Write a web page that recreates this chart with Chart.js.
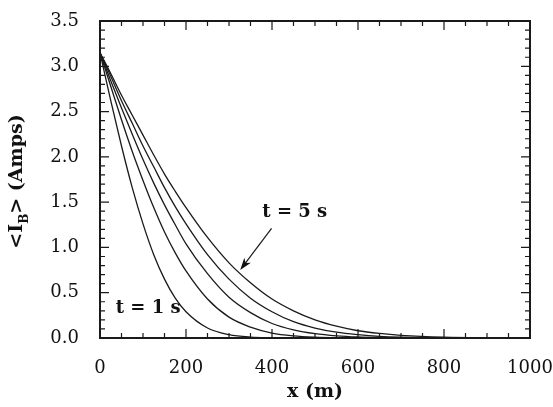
<!DOCTYPE html>
<html>
<head>
<meta charset="utf-8">
<script src="https://cdn.jsdelivr.net/npm/chart.js@4/dist/chart.umd.min.js"></script>
<style>
  html, body { margin: 0; padding: 0; background: #fff; }
  #wrap { width: 553px; height: 407px; position: relative; }
</style>
</head>
<body>
<div id="wrap"><canvas id="chart"></canvas></div>
<script>
// distance along the line (m)
const xPositions = [0, 25, 50, 75, 100, 125, 150, 175, 200, 250, 300, 350, 400, 450, 500, 550, 600, 650, 700, 800, 900, 1000];

// <I_B> (Amps) for t = 1 ... 5 s
const current1s = [3.15, 2.62, 2.12, 1.66, 1.26, 0.92, 0.65, 0.44, 0.29, 0.11, 0.037, 0.01, 0.003, 0, 0, 0, 0, 0, 0, 0, 0, 0];
const current2s = [3.15, 2.78, 2.41, 2.06, 1.74, 1.44, 1.17, 0.94, 0.74, 0.43, 0.23, 0.12, 0.054, 0.023, 0.009, 0.003, 0.001, 0, 0, 0, 0, 0];
const current3s = [3.15, 2.84, 2.54, 2.25, 1.97, 1.71, 1.47, 1.25, 1.04, 0.71, 0.45, 0.28, 0.16, 0.09, 0.048, 0.024, 0.011, 0.005, 0.002, 0, 0, 0];
const current4s = [3.15, 2.89, 2.62, 2.37, 2.12, 1.89, 1.66, 1.45, 1.26, 0.92, 0.65, 0.44, 0.29, 0.18, 0.11, 0.064, 0.037, 0.019, 0.01, 0.002, 0, 0];
const current5s = [3.15, 2.92, 2.68, 2.46, 2.24, 2.02, 1.81, 1.62, 1.44, 1.11, 0.83, 0.61, 0.43, 0.30, 0.20, 0.13, 0.08, 0.05, 0.03, 0.009, 0.002, 0];

// tick values
const xMajorTicks = [0, 200, 400, 600, 800, 1000];
const xMinorTicks = [50, 100, 150, 250, 300, 350, 450, 500, 550, 650, 700, 750, 850, 900, 950];
const yMajorTicks = [0, 0.5, 1.0, 1.5, 2.0, 2.5, 3.0, 3.5];
const yMinorTicks = [0.1, 0.2, 0.3, 0.4, 0.6, 0.7, 0.8, 0.9, 1.1, 1.2, 1.3, 1.4, 1.6, 1.7, 1.8, 1.9,
  2.1, 2.2, 2.3, 2.4, 2.6, 2.7, 2.8, 2.9, 3.1, 3.2, 3.3, 3.4];

const serif = "'DejaVu Serif', 'Liberation Serif', serif";

function series(values) {
  return {
    data: xPositions.map((x, i) => ({ x: x, y: values[i] })),
    borderColor: "#1a1a1a",
    borderWidth: 1.3,
    pointRadius: 0,
    fill: false,
    cubicInterpolationMode: "monotone",
  };
}

// frame, inward ticks, labels and arrow
const framePlugin = {
  id: "frame",
  afterDraw(chart) {
    const ctx = chart.ctx;
    const a = chart.chartArea;
    const xs = chart.scales.x;
    const ys = chart.scales.y;
    ctx.save();
    ctx.strokeStyle = "#1a1a1a";

    ctx.lineWidth = 1.2;
    const tick = (px, major, horizontal) => {
      const len = major ? 9 : 5;
      ctx.beginPath();
      if (horizontal) {
        ctx.moveTo(a.left, px); ctx.lineTo(a.left + len, px);
        ctx.moveTo(a.right, px); ctx.lineTo(a.right - len, px);
      } else {
        ctx.moveTo(px, a.bottom); ctx.lineTo(px, a.bottom - len);
        ctx.moveTo(px, a.top); ctx.lineTo(px, a.top + len);
      }
      ctx.stroke();
    };
    xMajorTicks.forEach(v => tick(xs.getPixelForValue(v), true, false));
    xMinorTicks.forEach(v => tick(xs.getPixelForValue(v), false, false));
    yMajorTicks.forEach(v => tick(ys.getPixelForValue(v), true, true));
    yMinorTicks.forEach(v => tick(ys.getPixelForValue(v), false, true));

    ctx.lineWidth = 2;
    ctx.strokeRect(a.left, a.top, a.right - a.left, a.bottom - a.top);

    // annotations
    ctx.fillStyle = "#111";
    ctx.font = "bold 18px " + serif;
    ctx.textAlign = "center";
    ctx.textBaseline = "middle";
    ctx.fillText("t = 1 s", xs.getPixelForValue(112), ys.getPixelForValue(0.33));
    ctx.fillText("t = 5 s", xs.getPixelForValue(453), ys.getPixelForValue(1.39));

    // arrow to the t = 5 s curve
    const x0 = xs.getPixelForValue(399), y0 = ys.getPixelForValue(1.21);
    const x1 = xs.getPixelForValue(326), y1 = ys.getPixelForValue(0.75);
    const ang = Math.atan2(y1 - y0, x1 - x0);
    ctx.lineWidth = 1.2;
    ctx.beginPath();
    ctx.moveTo(x0, y0);
    ctx.lineTo(x1 - 8 * Math.cos(ang), y1 - 8 * Math.sin(ang));
    ctx.stroke();
    ctx.beginPath();
    ctx.moveTo(x1, y1);
    ctx.lineTo(x1 - 13 * Math.cos(ang - 0.32), y1 - 13 * Math.sin(ang - 0.32));
    ctx.lineTo(x1 - 9 * Math.cos(ang), y1 - 9 * Math.sin(ang));
    ctx.lineTo(x1 - 13 * Math.cos(ang + 0.32), y1 - 13 * Math.sin(ang + 0.32));
    ctx.closePath();
    ctx.fill();

    // y axis title with subscript
    ctx.translate(15, (a.top + a.bottom) / 2 + 2);
    ctx.rotate(-Math.PI / 2);
    ctx.textAlign = "left";
    ctx.textBaseline = "alphabetic";
    const big = "bold 19px " + serif;
    const small = "bold 12px " + serif;
    ctx.font = big;
    const p1 = "<I", p3 = "> (Amps)";
    ctx.font = small;
    const wB = ctx.measureText("B").width;
    ctx.font = big;
    const total = ctx.measureText(p1).width + wB + ctx.measureText(p3).width;
    let cx = -total / 2;
    const base = 7;
    ctx.fillText(p1, cx, base);
    cx += ctx.measureText(p1).width;
    ctx.font = small;
    ctx.fillText("B", cx, base + 6);
    cx += wB;
    ctx.font = big;
    ctx.fillText(p3, cx, base);

    ctx.restore();
  }
};

new Chart(document.getElementById("chart"), {
  type: "line",
  data: {
    datasets: [series(current1s), series(current2s), series(current3s), series(current4s), series(current5s)],
  },
  options: {
    responsive: true,
    maintainAspectRatio: false,
    animation: false,
    events: [],
    layout: { padding: { top: 21, right: 23, left: 0, bottom: 0 } },
    plugins: { legend: { display: false }, tooltip: { enabled: false } },
    scales: {
      x: {
        type: "linear",
        min: 0,
        max: 1000,
        grid: { display: false },
        border: { display: false },
        afterBuildTicks: (s) => { s.ticks = xMajorTicks.map(v => ({ value: v })); },
        afterFit: (s) => { s.height = 69; s.paddingLeft = 0; s.paddingRight = 0; },
        ticks: { color: "#111", padding: 12, maxRotation: 0, font: { family: serif, size: 18 }, callback: (v) => String(v) },
        title: { display: true, text: "x (m)", color: "#111", padding: { top: 4 }, font: { family: serif, size: 19, weight: "bold" } },
      },
      y: {
        type: "linear",
        min: 0,
        max: 3.5,
        grid: { display: false },
        border: { display: false },
        afterBuildTicks: (s) => { s.ticks = yMajorTicks.map(v => ({ value: v })); },
        afterFit: (s) => { s.width = 100; s.paddingTop = 0; s.paddingBottom = 0; },
        ticks: { color: "#111", padding: 13, font: { family: serif, size: 18 }, callback: (v) => Number(v).toFixed(1) },
      },
    },
  },
  plugins: [framePlugin],
});
</script>
</body>
</html>
